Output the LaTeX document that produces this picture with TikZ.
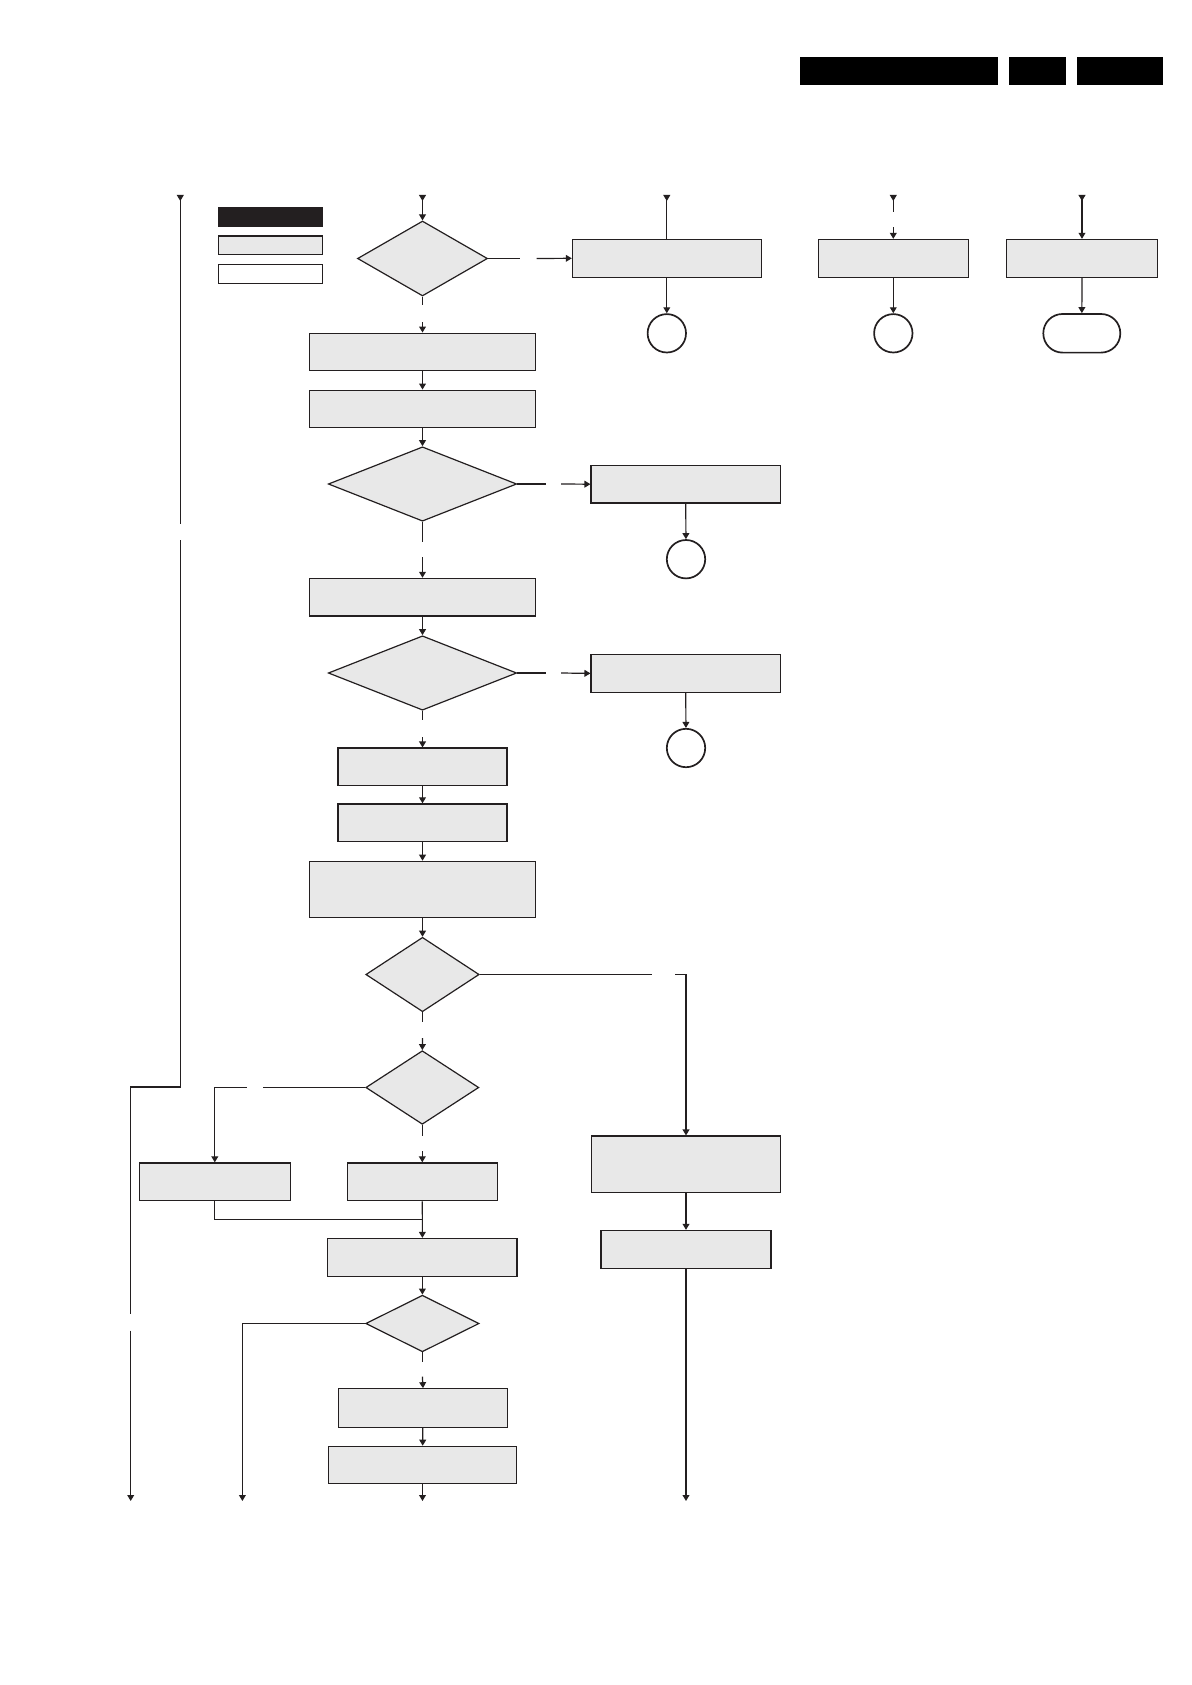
\documentclass[tikz,border=0pt]{standalone}
\usetikzlibrary{arrows.meta,shapes.geometric}
\definecolor{boxgray}{HTML}{E8E8E8}
\definecolor{inkblack}{HTML}{231F20}

\begin{document}
\begin{tikzpicture}[
x=0.5pt, y=-0.5pt,
line width=0.6pt, draw=inkblack,
box/.style={draw=inkblack, fill=boxgray, minimum height=18.85pt, inner sep=0pt},
decision/.style={draw=inkblack, diamond, fill=boxgray, inner sep=0pt},
connector/.style={draw=inkblack, circle, minimum size=19.2pt, inner sep=0pt, line width=0.85pt},
terminal/.style={draw=inkblack, rounded corners=9.6pt, minimum width=38.5pt, minimum height=19.3pt, inner sep=0pt, line width=0.85pt},
bar/.style={fill=black, minimum height=14pt, inner sep=0pt},
key/.style={draw=inkblack, minimum width=52.2pt, inner sep=0pt},
feed/.tip={Triangle[reversed,length=3pt,width=3.4pt]},
>={Triangle[length=3pt,width=3.4pt]}
]
\useasboundingbox (0,0) rectangle (1192,1685);

% header bars
\node[bar, minimum width=98.85pt] (hdr1) at (898.85,70.7) {};
\node[bar, minimum width=28.35pt] (hdr2) at (1037.35,70.7) {};
\node[bar, minimum width=43pt] (hdr3) at (1119.7,70.7) {};

% legend
\node[key, fill=inkblack, minimum height=9.5pt] (keyblack) at (270.5,217) {};
\node[key, fill=boxgray, minimum height=9.15pt] (keygray) at (270.5,245.2) {};
\node[key, fill=white, minimum height=9.5pt] (keywhite) at (270.5,273.8) {};

% entry points
\coordinate (inL) at (180.3,195);
\coordinate (inM) at (422.5,195);
\coordinate (inA) at (666.8,195);
\coordinate (inB) at (893.3,195);
\coordinate (inC) at (1082,195);

% exit points
\coordinate (outL) at (130.7,1501);
\coordinate (outG) at (242.4,1501);
\coordinate (outM) at (422.5,1501);
\coordinate (outR) at (686,1501);

% top row
\node[decision, minimum width=65pt, minimum height=37.5pt] (chk1) at (422.5,258.5) {};
\node[box, minimum width=94.4pt] (boxA) at (666.8,258.3) {};
\node[connector] (conA) at (666.8,333.3) {};
\node[box, minimum width=75.2pt] (boxB) at (893.3,258.3) {};
\node[connector] (conB) at (893.3,333.3) {};
\node[box, minimum width=75.7pt] (boxC) at (1082,258.3) {};
\node[terminal] (endC) at (1081.8,333.3) {};

% main column
\node[box, minimum width=112.85pt] (step2) at (422.5,352) {};
\node[box, minimum width=112.85pt] (step3) at (422.5,409) {};
\node[decision, minimum width=94.2pt, minimum height=37.2pt] (chk2) at (422.5,484) {};
\node[box, minimum width=94.65pt] (boxD) at (685.7,484.2) {};
\node[connector] (conD) at (686,559.2) {};
\node[box, minimum width=112.85pt] (step4) at (422.5,597.2) {};
\node[decision, minimum width=94.2pt, minimum height=37.2pt] (chk3) at (422.5,673) {};
\node[box, minimum width=94.65pt] (boxE) at (685.7,673.4) {};
\node[connector] (conE) at (686,748) {};
\node[box, minimum width=84.5pt] (step5) at (422.5,766.9) {};
\node[box, minimum width=84.5pt] (step6) at (422.5,822.8) {};
\node[box, minimum width=113.2pt, minimum height=28pt] (step7) at (422.5,889.3) {};
\node[decision, minimum width=56.7pt, minimum height=37.2pt] (chk4) at (422.5,974.5) {};
\node[decision, minimum width=56.5pt, minimum height=36.8pt] (chk5) at (422.3,1087.5) {};
\node[box, minimum width=75.5pt] (boxG) at (214.8,1181.8) {};
\node[box, minimum width=75pt] (boxH) at (422.3,1181.8) {};
\node[box, minimum width=94.6pt] (step8) at (422.4,1257.3) {};
\node[decision, minimum width=56.7pt, minimum height=28.3pt] (chk6) at (422.4,1323.5) {};
\node[box, minimum width=84.7pt, minimum height=19.25pt] (step9) at (423,1408) {};
\node[box, minimum width=94.2pt, minimum height=18.5pt] (step10) at (422.5,1464.8) {};

% right column
\node[box, minimum width=94.7pt, minimum height=28.15pt] (boxF) at (686,1164.2) {};
\node[box, minimum width=85pt] (boxL) at (686,1249.3) {};

% ends of the gaps left by the labels
\coordinate (g1a) at (520,258.5);    \coordinate (g1b) at (536.7,258.5);
\coordinate (g1c) at (422.5,305);    \coordinate (g1d) at (422.5,322);
\coordinate (gBa) at (893.3,211.7);  \coordinate (gBb) at (893.3,227.3);
\coordinate (g2a) at (546,484);      \coordinate (g2b) at (561,484);
\coordinate (g2c) at (422.5,541.7);  \coordinate (g2d) at (422.5,557);
\coordinate (g3a) at (546,673);      \coordinate (g3b) at (561,673);
\coordinate (g3c) at (422.5,720);    \coordinate (g3d) at (422.5,737.4);
\coordinate (g4a) at (652.3,974.5);  \coordinate (g4b) at (675,974.5);
\coordinate (g4c) at (422.5,1022);   \coordinate (g4d) at (422.5,1038);
\coordinate (g5a) at (263,1087.5);   \coordinate (g5b) at (246.7,1087.5);
\coordinate (g5c) at (422.3,1135.7); \coordinate (g5d) at (422.3,1151);
\coordinate (g6c) at (422.4,1361.7); \coordinate (g6d) at (422.4,1376.7);
\coordinate (gLa) at (180.3,524.3);  \coordinate (gLb) at (180.3,540);
\coordinate (bendL) at (130.7,1087);
\coordinate (gLc) at (130.7,1313.5); \coordinate (gLd) at (130.7,1330.7);
\coordinate (join) at (422.3,1219.3);

% connectors
\draw[feed-] (inL) -- (gLa);
\draw (gLb) |- (bendL) -- (gLc);
\draw[->] (gLd) -- (outL);

\draw[feed->] (inM) -- (chk1.north);
\draw (chk1.east) -- (g1a);
\draw[->] (g1b) -- (boxA.west);
\draw[feed-] (inA) -- (boxA.north);
\draw[->] (boxA) -- (conA);
\draw[feed-] (inB) -- (gBa);
\draw[->] (gBb) -- (boxB.north);
\draw[->] (boxB) -- (conB);
\draw[feed->] (inC) -- (boxC.north);
\draw[->] (boxC) -- (endC);

\draw (chk1.south) -- (g1c);
\draw[->] (g1d) -- (step2.north);
\draw[->] (step2) -- (step3);
\draw[->] (step3) -- (chk2);
\draw (chk2.east) -- (g2a);
\draw[->] (g2b) -- (boxD.west);
\draw[->] (boxD) -- (conD);
\draw (chk2.south) -- (g2c);
\draw[->] (g2d) -- (step4.north);
\draw[->] (step4) -- (chk3);
\draw (chk3.east) -- (g3a);
\draw[->] (g3b) -- (boxE.west);
\draw[->] (boxE) -- (conE);
\draw (chk3.south) -- (g3c);
\draw[->] (g3d) -- (step5.north);
\draw[->] (step5) -- (step6);
\draw[->] (step6) -- (step7);
\draw[->] (step7) -- (chk4);
\draw (chk4.east) -- (g4a);
\draw[->] (g4b) -| (boxF.north);
\draw (chk4.south) -- (g4c);
\draw[->] (g4d) -- (chk5.north);
\draw (chk5.west) -- (g5a);
\draw[->] (g5b) -| (boxG.north);
\draw (chk5.south) -- (g5c);
\draw[->] (g5d) -- (boxH.north);
\draw (boxG.south) |- (join);
\draw[->] (boxH) -- (step8);
\draw[->] (step8) -- (chk6);
\draw[->] (chk6.west) -| (outG);
\draw (chk6.south) -- (g6c);
\draw[->] (g6d) -- (step9.north);
\draw[->] (step9) -- (step10);
\draw[->] (step10) -- (outM);

\draw[->] (boxF) -- (boxL);
\draw[->] (boxL) -- (outR);
\end{tikzpicture}
\end{document}
